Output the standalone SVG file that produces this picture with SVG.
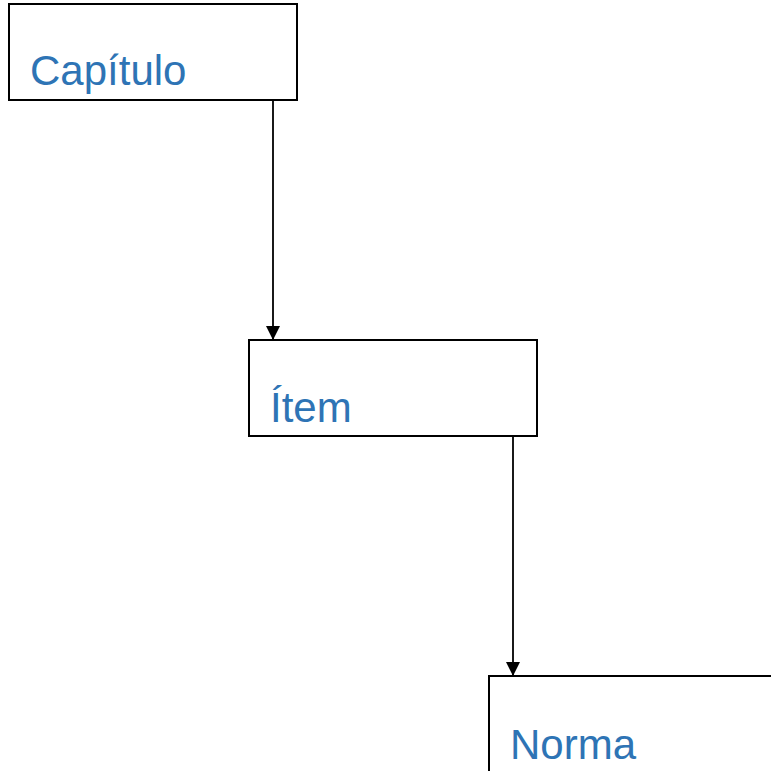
<svg xmlns="http://www.w3.org/2000/svg" width="771" height="771" viewBox="0 0 771 771">
<style>
.box{fill:#fff;stroke:#000;stroke-width:2}
.lbl{font-family:"Liberation Sans",Arial,sans-serif;font-size:42px;fill:#2E74B5}
.con{stroke:#000;stroke-width:1.8;fill:none}
</style>
<defs>
<marker id="ah" markerWidth="14" markerHeight="14" refX="14" refY="7" orient="auto" markerUnits="userSpaceOnUse">
<path d="M0,0 L14,7 L0,14 Z" fill="#000"/>
</marker>
</defs>
<rect width="771" height="771" fill="#fff"/>
<g id="n1"><rect class="box" x="9" y="4" width="288" height="96"/><text class="lbl" x="30" y="85">Capítulo</text></g>
<g id="n2"><rect class="box" x="249" y="340" width="288" height="96"/><text class="lbl" x="270" y="422">Ítem</text></g>
<g id="n3"><rect class="box" x="489" y="676" width="288" height="96"/><text class="lbl" x="510" y="759">Norma</text></g>
<g id="connectors">
<line class="con" x1="273" y1="100" x2="273" y2="340" marker-end="url(#ah)"/>
<line class="con" x1="513" y1="436" x2="513" y2="676" marker-end="url(#ah)"/>
</g>
</svg>
